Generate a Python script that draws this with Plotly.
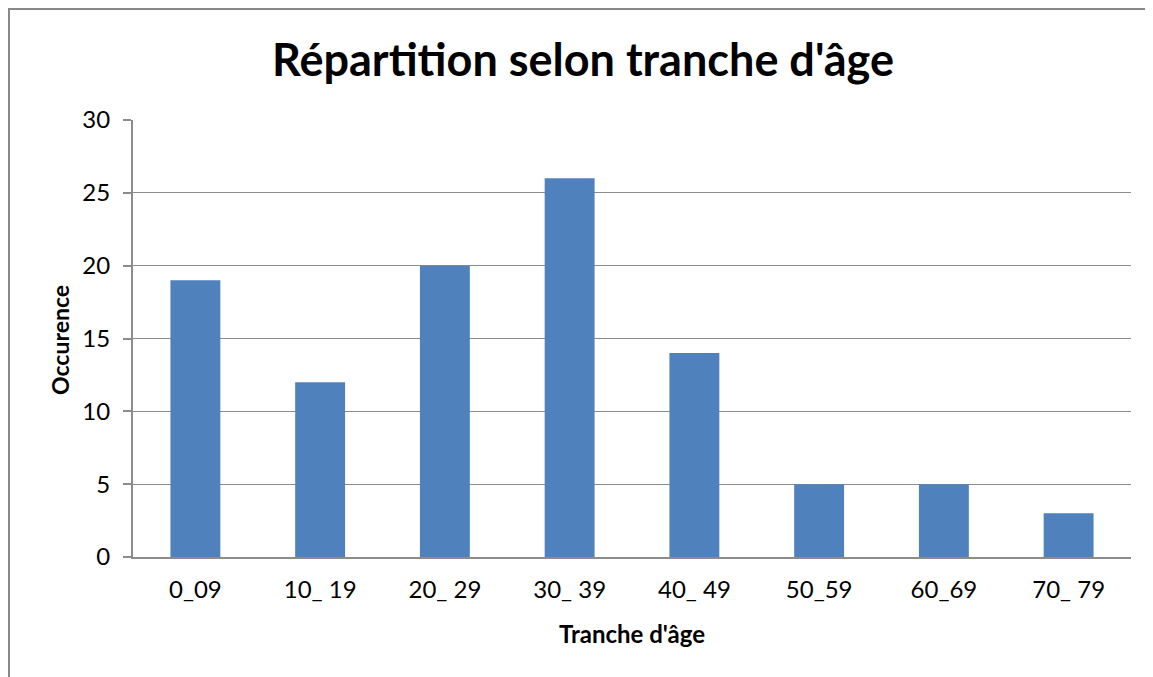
import plotly.graph_objects as go

categories = ["0_09", "10_ 19", "20_ 29", "30_ 39", "40_ 49", "50_59", "60_69", "70_ 79"]
occurrences = [19, 12, 20, 26, 14, 5, 5, 3]
y_ticks = [0, 5, 10, 15, 20, 25, 30]

# page body has an 8px margin; figure is placed at (8, 8) in the window
OFF = 8
W, H = 1153 - OFF, 677 - OFF
# plot area in window pixels: x 133..1131, y 120..557
L, R, T, B = 133 - OFF, 1153 - 1131, 120 - OFF, 677 - 557
pw, ph = 1131 - 133, 557 - 120

def paper_x(win_x):
    return (win_x - 133) / pw

def paper_y(win_y):
    return (557 - win_y) / ph

fig = go.Figure(go.Bar(x=categories, y=occurrences,
                       marker=dict(color="#4F81BD", line=dict(width=0)), width=0.4))

grey = "#8C8C8C"
fig.update_layout(
    width=W, height=H,
    margin=dict(l=L, r=R, t=T, b=B),
    paper_bgcolor="white", plot_bgcolor="white",
    font=dict(family="Lato, 'Open Sans', sans-serif", color="black"),
    title=dict(text="<b>Répartition selon tranche d'âge</b>",
               x=(583 - OFF) / W, xanchor="center", xref="container",
               y=1 - (60 - OFF) / H, yanchor="middle", yref="container",
               font=dict(size=45, color="black")),
    showlegend=False,
    xaxis=dict(showline=True, linecolor=grey, linewidth=2, ticks="", showgrid=False,
               tickfont=dict(size=24), ticklabelstandoff=10),
    yaxis=dict(range=[0, 30], tickvals=y_ticks, showline=True, linecolor=grey, linewidth=2,
               ticks="outside", ticklen=8, tickcolor=grey, tickwidth=2,
               showgrid=True, gridcolor=grey, gridwidth=1, zeroline=False,
               tickfont=dict(size=24), ticklabelstandoff=8),
    annotations=[
        dict(text="<b>Tranche d'âge</b>", xref="paper", yref="paper",
             x=paper_x(632), y=paper_y(633), xanchor="center", yanchor="middle",
             showarrow=False, font=dict(size=24, color="black")),
        dict(text="<b>Occurence</b>", xref="paper", yref="paper",
             x=paper_x(60), y=paper_y(340), xanchor="center", yanchor="middle",
             textangle=-90, showarrow=False, font=dict(size=23, color="black")),
    ],
    shapes=[
        dict(type="line", xref="paper", yref="paper",
             x0=paper_x(OFF), x1=paper_x(1160), y0=paper_y(OFF + 1), y1=paper_y(OFF + 1),
             line=dict(color="#888888", width=2)),
        dict(type="line", xref="paper", yref="paper",
             x0=paper_x(OFF + 1), x1=paper_x(OFF + 1), y0=paper_y(OFF), y1=paper_y(690),
             line=dict(color="#888888", width=2)),
    ],
)

fig.write_html(
    "out.html",
    config={"displayModeBar": False},
    post_script="document.documentElement.style.overflow='hidden';document.body.style.overflow='hidden';",
)
